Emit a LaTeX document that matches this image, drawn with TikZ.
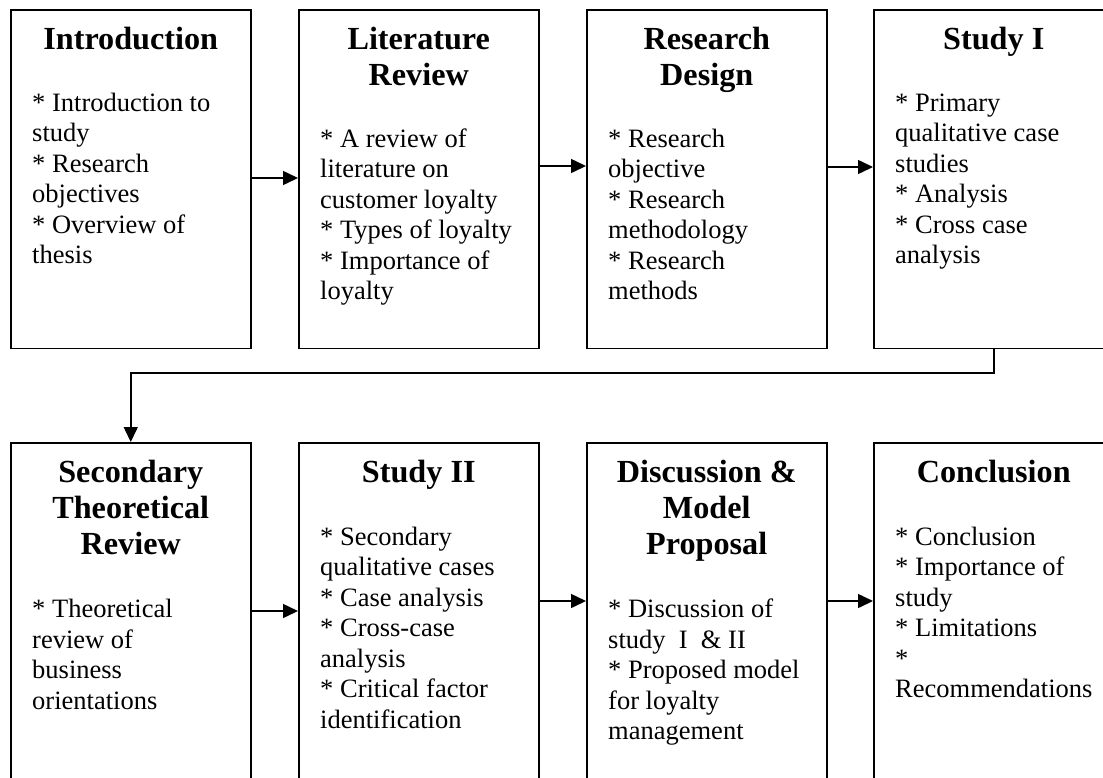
\documentclass[tikz,border=0pt]{standalone}
\usepackage{fontspec}
\setmainfont{Liberation Serif}
\usetikzlibrary{arrows.meta}
\newcommand{\titlefont}{\bfseries\fontsize{32.2}{36}\selectfont}
\newcommand{\bodyfont}{\fontsize{26.5}{30.5}\selectfont}
\tikzset{
  stage/.style={draw=black, line width=1.5pt, minimum width=240pt, anchor=north west, inner sep=0pt},
  toprow/.style={stage, minimum height=338.5pt},
  botrow/.style={stage, minimum height=360pt},
  heading/.style={font=\titlefont, align=center, anchor=north, inner sep=0pt},
  items/.style={font=\bodyfont, align=left, anchor=north west, inner sep=0pt},
  flow/.style={line width=1.5pt, -{Triangle[length=15pt,width=14pt]}}
}
\begin{document}
\begin{tikzpicture}[x=1pt, y=-1pt]
\useasboundingbox (0,0) rectangle (1103,777);
\clip (0,0) rectangle (1103,777);
\fill[white] (0,0) rectangle (1103,777);

% top row of stages
\node[toprow] (b1) at (10,9) {};
\node[toprow] (b2) at (298,9) {};
\node[toprow] (b3) at (586,9) {};
\node[toprow] (b4) at (873,9) {};

% bottom row of stages
\node[botrow] (b5) at (10,442) {};
\node[botrow] (b6) at (298,442) {};
\node[botrow] (b7) at (586,442) {};
\node[botrow] (b8) at (873,442) {};

% headings (first baseline 40.5 below the top edge)
\node[heading] (h1) at (b1.north |- 0,24.3) {\strut Introduction};
\node[heading] (h2) at (b2.north |- 0,24.3) {\strut Literature\\Review};
\node[heading] (h3) at (b3.north |- 0,24.3) {\strut Research\\Design};
\node[heading] (h4) at (b4.north |- 0,24.3) {\strut Study I};
\node[heading] (h5) at (b5.north |- 0,457.3) {\strut Secondary\\Theoretical\\Review};
\node[heading] (h6) at (b6.north |- 0,457.3) {\strut Study II};
\node[heading] (h7) at (b7.north |- 0,457.3) {\strut Discussion \&\\Model\\Proposal};
\node[heading] (h8) at (b8.north |- 0,457.3) {\strut Conclusion};

% item lists
\node[items] (t1) at (32,89.6) {\strut * Introduction to\\study\\* Research\\objectives\\* Overview of\\thesis};
\node[items] (t2) at (320,125.6) {\strut * A review of\\literature on\\customer loyalty\\* Types of loyalty\\* Importance of\\loyalty};
\node[items] (t3) at (608,125.6) {\strut * Research\\objective\\* Research\\methodology\\* Research\\methods};
\node[items] (t4) at (895,89.6) {\strut * Primary\\qualitative case\\studies\\* Analysis\\* Cross case\\analysis};
\node[items] (t5) at (32,596.2) {\strut * Theoretical\\review of\\business\\orientations};
\node[items] (t6) at (320,523.6) {\strut * Secondary\\qualitative cases\\* Case analysis\\* Cross-case\\analysis\\* Critical factor\\identification};
\node[items] (t7) at (608,596.2) {\strut * Discussion of\\study\ \ I\ \ \& II\\* Proposed model\\for loyalty\\management};
\node[items] (t8) at (895,523.6) {\strut * Conclusion\\* Importance of\\study\\* Limitations\\*\\Recommendations};

% connectors
\draw[flow] (b1.east |- 0,178) -- (b2.west |- 0,178);
\draw[flow] (b2.east |- 0,166) -- (b3.west |- 0,166);
\draw[flow] (b3.east |- 0,167) -- (b4.west |- 0,167);
\draw[flow] (b4.south) -- ++(0,24) -| (b5.north);
\draw[flow] (b5.east |- 0,611) -- (b6.west |- 0,611);
\draw[flow] (b6.east |- 0,601) -- (b7.west |- 0,601);
\draw[flow] (b7.east |- 0,601) -- (b8.west |- 0,601);
\end{tikzpicture}
\end{document}
